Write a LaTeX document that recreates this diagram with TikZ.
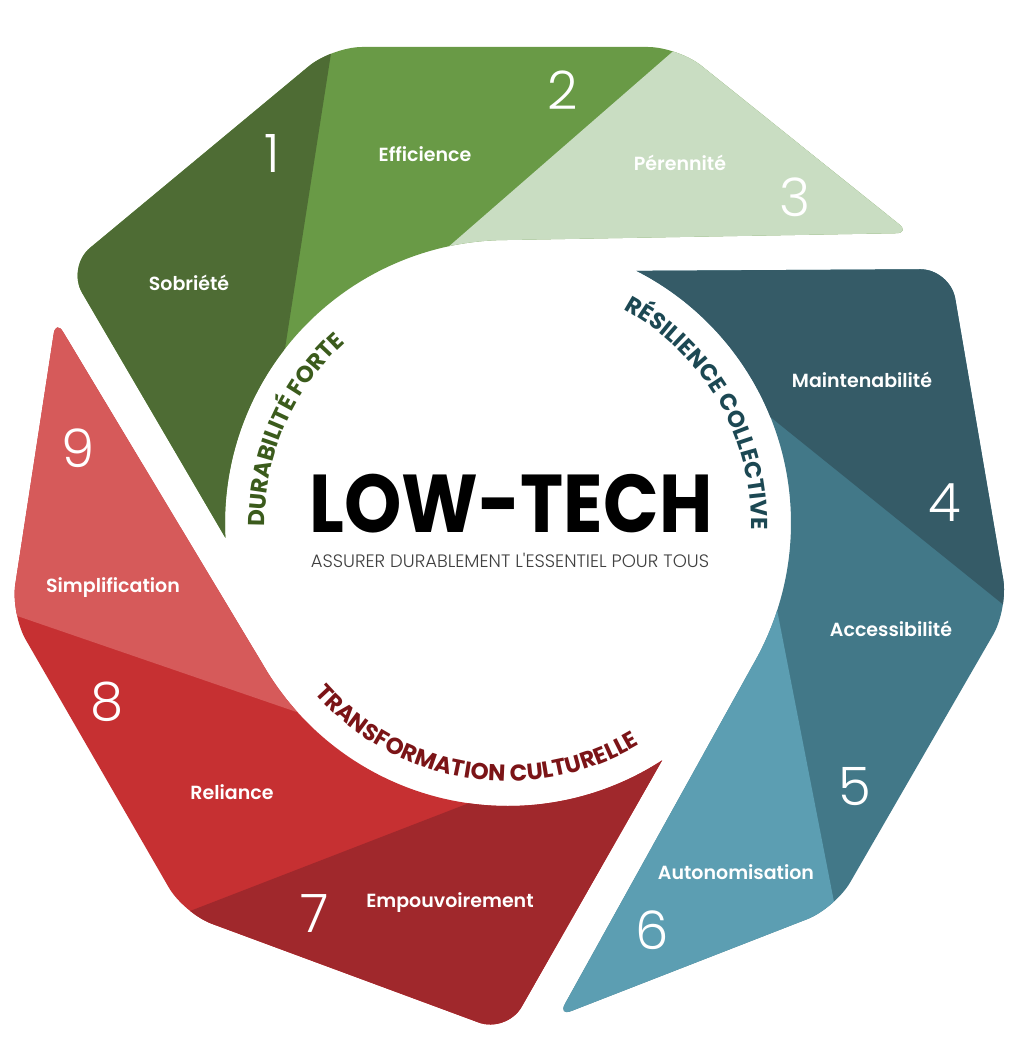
\documentclass[tikz,border=0pt]{standalone}
\usepackage{fontspec}
\setmainfont{Poppins}
\IfFontExistsTF{Poppins Light}{\newfontfamily\thinfont{Poppins Light}}{\newfontfamily\thinfont{Poppins}}
\IfFontExistsTF{Poppins SemiBold}{\newfontfamily\midfont{Poppins SemiBold}}{\newfontfamily\midfont{Poppins}[FakeBold=1.5]}
\usepackage{xcolor}
\usetikzlibrary{calc, decorations.text}
\definecolor{sobriete}{HTML}{4E6C34}
\definecolor{efficience}{HTML}{699A46}
\definecolor{perennite}{HTML}{C9DDC2}
\definecolor{maintenabilite}{HTML}{355B67}
\definecolor{accessibilite}{HTML}{427888}
\definecolor{autonomisation}{HTML}{5C9EB2}
\definecolor{empouvoirement}{HTML}{A0282C}
\definecolor{reliance}{HTML}{C63032}
\definecolor{simplification}{HTML}{D65A5A}
\definecolor{durtext}{HTML}{3B5B1C}
\definecolor{restext}{HTML}{1C4853}
\definecolor{tratext}{HTML}{7B1417}

% outline of one band, in its own frame (centre of the ring at the origin)
\newcommand{\bandpath}{(183:283) [rounded corners=30pt] -- (-441,256) -- (-176,476) -- (170,476) [rounded corners=14pt] -- (402,290) [sharp corners] -- (0,283) arc[start angle=90, end angle=183, radius=283] -- cycle}
% one band cut in three pieces: #1 left, #2 middle, #3 right
\newcommand{\band}[3]{%
  \begin{scope}
    \clip \bandpath;
    \fill[#2] (-600,-200) rectangle (600,600);
    \fill[#1] ($(142:283)!1.3!(-176,476)$) -- (-700,567) -- (-700,-130) -- ($(-176,476)!2!(142:283)$) -- cycle;
    \fill[#3] ($(102:283)!1.3!(170,476)$) -- (700,600) -- (700,0) -- (0,0) -- (102:283) -- cycle;
  \end{scope}}

\begin{document}
\begin{tikzpicture}[x=1pt, y=1pt,
    pillar/.style={text=white, font=\midfont\fontsize{19}{22}\selectfont, inner sep=0pt},
    num/.style={text=white, font=\thinfont\fontsize{53}{53}\selectfont, inner sep=0pt}]
    \fill[white] (-508,-526) rectangle (516,523);

    % Durabilite forte
    \band{sobriete}{efficience}{perennite}
    % Resilience collective
    \begin{scope}[rotate=-120]
        \band{maintenabilite}{accessibilite}{autonomisation}
    \end{scope}
    % Transformation culturelle
    \begin{scope}[rotate=120]
        \band{empouvoirement}{reliance}{simplification}
    \end{scope}

    % pillars
    \node[pillar] (sob) at (-319,240) {Sobriété};
    \node[pillar] (eff) at (-83,369) {Efficience};
    \node[pillar] (per) at (172,360) {Pérennité};
    \node[pillar] (mai) at (354,143) {Maintenabilité};
    \node[pillar] (acc) at (383,-106) {Accessibilité};
    \node[pillar] (aut) at (228,-349) {Autonomisation};
    \node[pillar] (emp) at (-58,-380) {Empouvoirement};
    \node[pillar] (rel) at (-276,-269) {Reliance};
    \node[pillar] (sim) at (-395,-65) {Simplification};

    % numbers
    \node[num] (n1) at (-236,369) {1};
    \node[num] (n2) at (55,433) {2};
    \node[num] (n3) at (287,326) {3};
    \node[num] (n4) at (437,20) {4};
    \node[num] (n5) at (347,-264) {5};
    \node[num] (n6) at (144,-407) {6};
    \node[num] (n7) at (-193,-391) {7};
    \node[num] (n8) at (-401,-179) {8};
    \node[num] (n9) at (-430,75) {9};

    % centre
    \node[font=\bfseries\fontsize{82}{82}\selectfont, inner sep=0pt] (title) at (3,19) {\scalebox{0.89}[1]{LOW-TECH}};
    \node[font=\thinfont\fontsize{18}{18}\selectfont, text=black!75, inner sep=0pt] (motto) at (2,-37) {ASSURER DURABLEMENT L'ESSENTIEL POUR TOUS};

    % curved titles
    \path[decorate, decoration={text along path, text align=center,
        text={|\bfseries\fontsize{23}{23}\selectfont\color{durtext}|DURABILITÉ FORTE}}]
        (215:243) arc[start angle=215, end angle=98, radius=243];
    \path[decorate, decoration={text along path, text align=center,
        text={|\bfseries\fontsize{23}{23}\selectfont\color{restext}|RÉSILIENCE COLLECTIVE}}]
        (90:243) arc[start angle=90, end angle=-30, radius=243];
    \path[decorate, decoration={text along path, text align=center,
        text={|\bfseries\fontsize{23}{23}\selectfont\color{tratext}|TRANSFORMATION CULTURELLE}}]
        (-159:258) arc[start angle=-159, end angle=-39, radius=258];
\end{tikzpicture}
\end{document}
